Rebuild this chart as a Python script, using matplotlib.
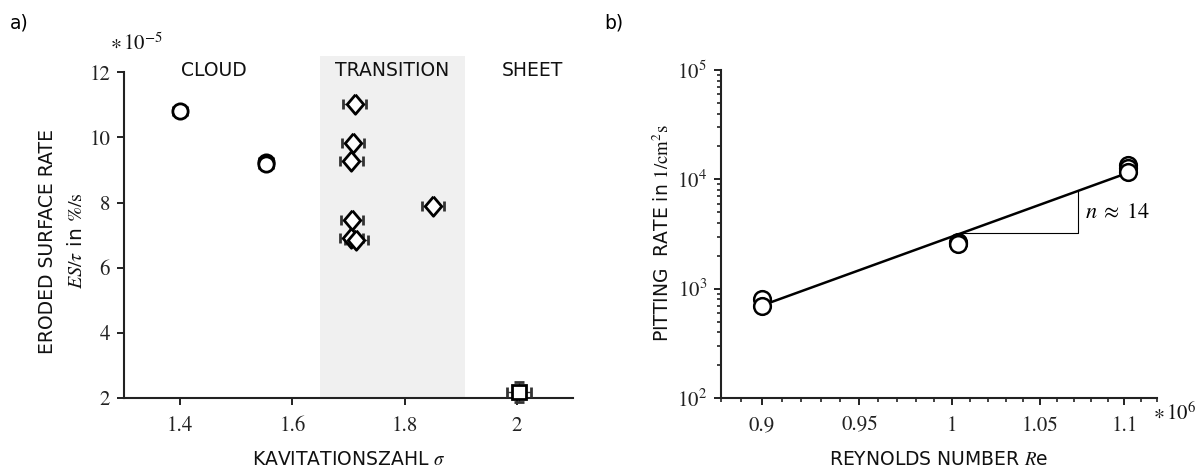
import numpy as np
import matplotlib
matplotlib.use('Agg')
import matplotlib.pyplot as plt
from matplotlib.ticker import FixedLocator, FixedFormatter, NullFormatter, LogLocator

plt.rcParams['font.family'] = 'DejaVu Sans'
plt.rcParams['mathtext.fontset'] = 'stix'

# a) eroded surface rate vs cavitation number
cloud_sigma = [1.40, 1.553, 1.553]
cloud_rate = [10.82, 9.24, 9.18]
trans_sigma = [1.711, 1.708, 1.705, 1.706, 1.705, 1.714, 1.851]
trans_rate = [11.02, 9.82, 9.28, 7.47, 6.91, 6.86, 7.91]
sheet_sigma = [2.004]
sheet_rate = [2.19]
span_lo, span_hi = 1.65, 1.908
regime_names = ['CLOUD', 'TRANSITION', 'SHEET']
regime_x = [1.46, 1.778, 2.027]

# b) pitting rate vs Reynolds number
re_pts = [0.9e6, 0.9e6, 1.003e6, 1.003e6, 1.003e6, 1.102e6, 1.102e6, 1.102e6]
pit_pts = [810, 690, 2700, 2600, 2550, 13400, 12600, 11600]
re_fit = [0.9e6, 1.103e6]
pit_fit = [700, 11600]
tri_x = [1.005e6, 1.072e6]
re_ticks = [0.9e6, 0.95e6, 1.0e6, 1.05e6, 1.1e6]
re_ticklabels = ['0.9', '0.95', '1', '1.05', '1.1']

fs = 13.5
tickfont = {'family': 'STIXGeneral', 'size': 15}

fig = plt.figure(figsize=(12.01, 4.67), dpi=100)
ax1 = fig.add_axes([124/1201, 1-398/467, 449/1201, 342/467])
ax2 = fig.add_axes([721/1201, 1-398/467, 436/1201, 328/467])

for ax in (ax1, ax2):
    for s in ['top', 'right']:
        ax.spines[s].set_visible(False)
    for s in ['left', 'bottom']:
        ax.spines[s].set_linewidth(1.5)
        ax.spines[s].set_color('#222222')
    ax.tick_params(which='major', direction='out', length=5, width=1.4, pad=5, colors='#222222')
    ax.tick_params(which='minor', direction='out', length=3, width=1.2, colors='#222222')

# --- panel a
ax1.axvspan(span_lo, span_hi, color='#f0f0f0', lw=0, zorder=0)
diamond = [(0, 1), (0.85, 0), (0, -1), (-0.85, 0), (0, 1)]
ebkw = dict(ecolor='#333333', elinewidth=1.0, capsize=3.5, capthick=1.0, ls='none',
            mfc='white', mec='black', mew=2.0)
ax1.errorbar(cloud_sigma, cloud_rate, xerr=0.012, marker='o', ms=11, **ebkw)
ax1.errorbar(trans_sigma, trans_rate, xerr=0.02, marker=diamond, ms=14, **ebkw)
sheet = ax1.errorbar(sheet_sigma, sheet_rate, xerr=0.022, yerr=0.3, marker='s', ms=10, zorder=4,
                     **ebkw)
for art in sheet.get_children():
    art.set_clip_on(False)
ax1.set_xlim(1.3, 2.1)
ax1.set_ylim(2, 12.5)
ax1.spines['left'].set_bounds(2, 12)
ax1.set_xticks([1.4, 1.6, 1.8, 2.0])
ax1.set_xticklabels(['1.4', '1.6', '1.8', '2'], fontdict=tickfont)
ax1.set_yticks([2, 4, 6, 8, 10, 12])
ax1.set_yticklabels(['2', '4', '6', '8', '10', '12'], fontdict=tickfont)
ax1.tick_params(axis='x', pad=8)
for name, xp in zip(regime_names, regime_x):
    ax1.text(xp, 12.05, name, ha='center', va='center', fontsize=fs, color='#111111')
ax1.set_xlabel(r'KAVITATIONSZAHL $\sigma$', fontsize=fs, labelpad=10, color='#111111')

fig.text(48/1201, 1-241/467, 'ERODED SURFACE RATE', rotation=90, ha='center', va='center',
         fontsize=fs, color='#111111')
fig.text(76/1201, 1-241/467, r'$ES/\tau$ in $\%/\mathrm{s}$', rotation=90, ha='center',
         va='center', fontsize=14.5, color='#111111')
fig.text(110/1201, 1-43/467, r'$\ast\,10^{-5}$', ha='left', va='center', fontsize=15,
         color='#111111')
fig.text(10/1201, 1-23/467, 'a)', ha='left', va='center', fontsize=fs)

# --- panel b
ax2.set_xscale('log')
ax2.set_yscale('log')
ax2.plot(re_fit, pit_fit, color='black', lw=1.8, zorder=2)
ax2.plot(re_pts, pit_pts, ls='none', marker='o', ms=12, mfc='white', mec='black', mew=1.8,
         zorder=3)
# slope triangle, corners taken on the fit line
lf_x = np.log10(re_fit)
lf_y = np.log10(pit_fit)
tri_y = 10 ** np.interp(np.log10(tri_x), lf_x, lf_y)
ax2.plot([tri_x[0], tri_x[1], tri_x[1]], [tri_y[0], tri_y[0], tri_y[1]], color='black',
         lw=0.8, zorder=1)
ax2.text(tri_x[1] * 1.004, np.sqrt(tri_y[0] * tri_y[1]), r'$n\;\approx\;14$', ha='left',
         va='center', fontsize=16)
ax2.set_xlim(0.88e6, 1.12e6)
ax2.set_ylim(1e2, 1e5)
ax2.xaxis.set_major_locator(FixedLocator(re_ticks))
ax2.xaxis.set_major_formatter(FixedFormatter(re_ticklabels))
ax2.xaxis.set_minor_locator(FixedLocator(np.arange(0.88e6, 1.1201e6, 0.01e6)))
ax2.xaxis.set_minor_formatter(NullFormatter())
ax2.yaxis.set_major_locator(LogLocator(base=10, numticks=10))
ax2.yaxis.set_minor_locator(LogLocator(base=10, subs=np.arange(2, 10), numticks=10))
ax2.yaxis.set_minor_formatter(NullFormatter())
for lab in ax2.get_xticklabels() + ax2.get_yticklabels():
    lab.set_fontsize(15)
    lab.set_family('STIXGeneral')
ax2.tick_params(axis='x', pad=8)
ax2.set_xlabel(r'REYNOLDS NUMBER $R$e', fontsize=fs, labelpad=10, color='#111111')
fig.text(663/1201, 1-233/467, r'PITTING  RATE in $1/\mathrm{cm}^2\mathrm{s}$', rotation=90,
         ha='center', va='center', fontsize=fs, color='#111111')
fig.text(1153/1201, 1-413/467, r'$\ast\,10^{6}$', ha='left', va='center', fontsize=15,
         color='#111111')
fig.text(604/1201, 1-23/467, 'b)', ha='left', va='center', fontsize=fs)

fig.savefig('out.png', dpi=100)
